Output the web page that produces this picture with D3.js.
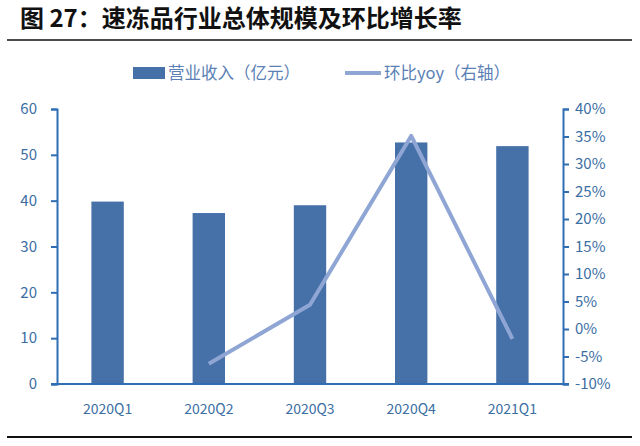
<!DOCTYPE html>
<html><head><meta charset="utf-8">
<script src="https://cdn.jsdelivr.net/npm/d3@7"></script>
<style>body{margin:0;background:#fff;} text{font-family:"Noto Sans CJK SC","Noto Sans",sans-serif;}</style>
</head><body><svg id="c" width="640" height="446"></svg>
<script>
const quarters = ['2020Q1', '2020Q2', '2020Q3', '2020Q4', '2021Q1'];
const revenue = [39.8, 37.3, 39.0, 52.7, 51.9];
const yoyQuarters = ['2020Q2', '2020Q3', '2020Q4', '2021Q1'];
const yoy = [-6.3, 4.4, 35.1, -1.8];
const leftTicks = [0, 10, 20, 30, 40, 50, 60];
const rightTicks = [-10, -5, 0, 5, 10, 15, 20, 25, 30, 35, 40];

const svg = d3.select('#c');
const plotL = 57, plotR = 563, plotT = 109, plotB = 384;
const axisColor = '#2f6db5', labelColor = '#3b6ea3';

svg.append('text').attr('x', 20).attr('y', 27).text('图 27：速冻品行业总体规模及环比增长率')
  .attr('font-size', 24).attr('font-weight', 'bold').attr('fill', '#111');
svg.append('line').attr('x1', 7).attr('x2', 632).attr('y1', 40).attr('y2', 40).attr('stroke', '#111').attr('stroke-width', 1.5);
svg.append('line').attr('x1', 7).attr('x2', 632).attr('y1', 437).attr('y2', 437).attr('stroke', '#111').attr('stroke-width', 2);

let x = d3.scaleBand().domain(quarters).range([plotL, plotR]).paddingInner(0.68).paddingOuter(0.34);
let yL = d3.scaleLinear().domain([0, 60]).range([plotB, plotT]);
let yR = d3.scaleLinear().domain([-10, 40]).range([plotB, plotT]);

svg.selectAll('rect.bar').data(revenue).join('rect').attr('class', 'bar')
  .attr('x', (d, i) => x(quarters[i])).attr('width', x.bandwidth())
  .attr('y', d => yL(d)).attr('height', d => plotB - yL(d)).attr('fill', '#4570a8');

let line = d3.line().x((d, i) => x(yoyQuarters[i]) + x.bandwidth() / 2).y(d => yR(d));
svg.append('path').datum(yoy).attr('d', line).attr('fill', 'none')
  .attr('stroke', '#8fa6d4').attr('stroke-width', 4).attr('stroke-linejoin', 'round');

function styleAxis(g) {
  g.selectAll('path,line').attr('stroke', axisColor).attr('stroke-width', 2);
  g.selectAll('text').attr('fill', labelColor).attr('font-size', 15)
    .attr('font-family', '"Open Sans",sans-serif');
}
svg.append('g').attr('transform', `translate(${plotL},0)`)
  .call(d3.axisLeft(yL).tickValues(leftTicks).tickSize(6).tickPadding(14).tickSizeOuter(6)).call(styleAxis);
svg.append('g').attr('transform', `translate(${plotR},0)`)
  .call(d3.axisRight(yR).tickValues(rightTicks).tickFormat(d => d + '%').tickSize(6).tickPadding(6).tickSizeOuter(6)).call(styleAxis);
svg.append('g').attr('transform', `translate(0,${plotB})`)
  .call(d3.axisBottom(x).tickSize(0).tickPadding(20)).call(styleAxis)
  .call(g => g.select('.domain').attr('d', `M${plotL - 6},0H${plotR + 6}`))
  .selectAll('text').attr('font-size', 14);

let lg = svg.append('g').attr('font-size', 16.5).attr('fill', '#5b80b5');
lg.append('rect').attr('x', 133).attr('y', 67).attr('width', 32).attr('height', 12).attr('fill', '#4570a8');
lg.append('text').attr('x', 168).attr('y', 79).text('营业收入（亿元）');
lg.append('line').attr('x1', 345).attr('x2', 381).attr('y1', 73).attr('y2', 73).attr('stroke', '#8fa6d4').attr('stroke-width', 4);
lg.append('text').attr('x', 384).attr('y', 79).text('环比yoy（右轴）');
</script></body></html>
